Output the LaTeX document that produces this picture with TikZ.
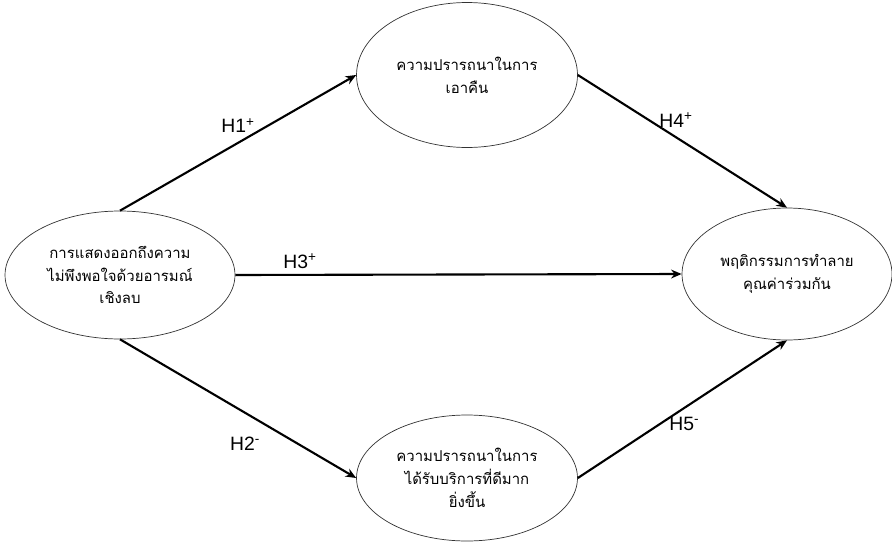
\documentclass[tikz,border=0pt]{standalone}
\usepackage{fontspec}
\setmainfont{Liberation Sans}
\newfontfamily\thaifont[Script=Thai]{Loma}
\usetikzlibrary{arrows.meta, positioning, shapes.geometric}
\tikzset{
	varnode/.style={draw=black!80, ellipse, inner sep=0pt, align=center, font=\thaifont\fontsize{8.5}{13}\selectfont},
	patharr/.style={-{Stealth[length=6pt, width=5pt]}, line width=1.2pt},
	hyplabel/.style={font=\fontsize{11}{13}\selectfont, inner sep=1pt},
}
\begin{document}
\begin{tikzpicture}[x=0.02cm, y=-0.02cm]
	\useasboundingbox (0,0) rectangle (892,541);
	\node[varnode, minimum width=4.6cm, minimum height=2.56cm] (neg) at (120,275) {การแสดงออกถึงความ\\ไม่พึงพอใจด้วยอารมณ์\\เชิงลบ};
	\node[varnode, minimum width=4.42cm, minimum height=2.9cm] (back) at (467,75) {ความปรารถนาในการ\\เอาคืน};
	\node[varnode, minimum width=4.2cm, minimum height=2.64cm] (codes) at (787,274) {พฤติกรรมการทำลาย\\คุณค่าร่วมกัน};
	\node[varnode, minimum width=4.42cm, minimum height=2.52cm] (better) at (467,478) {ความปรารถนาในการ\\ได้รับบริการที่ดีมาก\\ยิ่งขึ้น};
	% paths
	\draw[patharr] (neg.north) -- (back.west) node[hyplabel, pos=0.5, above=4pt] {H1\textsuperscript{+}};
	\draw[patharr] (back.east) -- (codes.north) node[hyplabel, pos=0.47, above=4pt] {H4\textsuperscript{+}};
	\draw[patharr] (neg.east) -- (codes.west) node[hyplabel, pos=0.145, above=2pt] {H3\textsuperscript{+}};
	\draw[patharr] (neg.south) -- (better.west) node[hyplabel, pos=0.53, below=12pt] {H2\textsuperscript{-}};
	\draw[patharr] (better.east) -- (codes.south) node[hyplabel, pos=0.51, below=4pt] {H5\textsuperscript{-}};
\end{tikzpicture}
\end{document}
